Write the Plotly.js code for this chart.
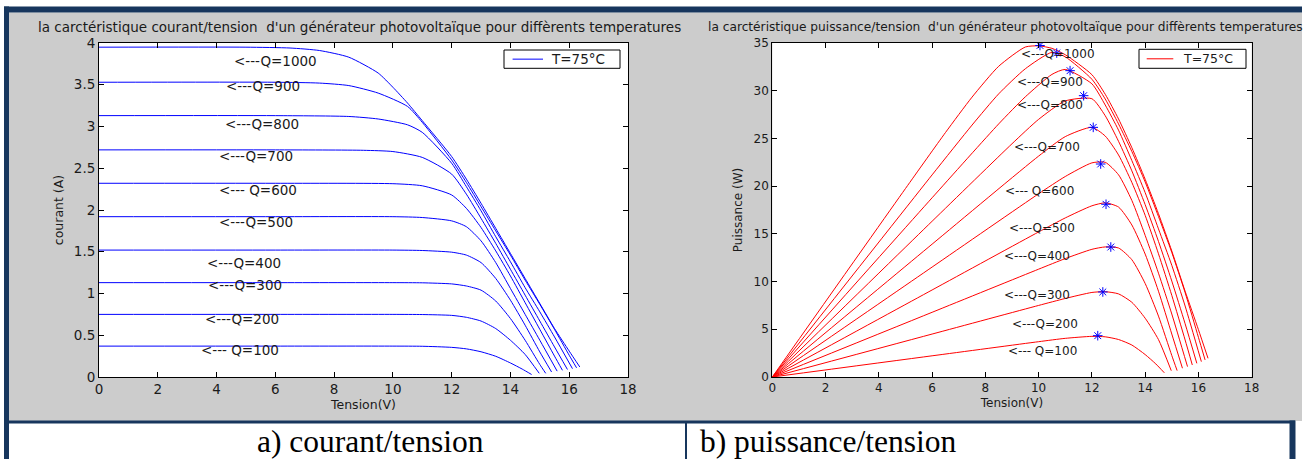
<!DOCTYPE html>
<html>
<head>
<meta charset="utf-8">
<script src="https://cdn.plot.ly/plotly-3.0.1.min.js"></script>
<style>
html,body{margin:0;padding:0;background:#fff;}
#chart{width:1309px;height:459px;}
</style>
</head>
<body>
<div id="chart"></div>
<script>
// ---------- DATA ----------
const IRRADIANCE = [100, 200, 300, 400, 500, 600, 700, 800, 900, 1000];
const Q_LABELS = ['<--- Q=100', '<---Q=200', '<---Q=300', '<---Q=400', '<---Q=500',
                  '<--- Q=600', '<---Q=700', '<---Q=800', '<---Q=900', '<---Q=1000'];
const LEGEND_LABEL = 'T=75°C';

// Tension (V) sample points, courant (A) and puissance (W) for each irradiance Q
const V_Q100 = [0, 6, 10, 11, 12, 12.5, 13, 13.5, 14, 14.4, 14.72];
const I_Q100 = [0.37, 0.37, 0.37, 0.368, 0.355, 0.337, 0.302, 0.248, 0.168, 0.095, 0.03];
const P_Q100 = [0, 2.22, 3.70, 4.05, 4.26, 4.21, 3.93, 3.35, 2.35, 1.37, 0.44];

const V_Q200 = [0, 6, 10, 11, 12, 12.5, 13, 13.5, 14, 14.5, 14.98];
const I_Q200 = [0.75, 0.75, 0.75, 0.748, 0.738, 0.715, 0.67, 0.58, 0.44, 0.27, 0.044];
const P_Q200 = [0, 4.5, 7.5, 8.23, 8.86, 8.94, 8.71, 7.83, 6.16, 3.92, 0.66];

const V_Q300 = [0, 6, 10, 11, 12, 12.5, 13, 13.5, 14, 14.5, 15, 15.2];
const I_Q300 = [1.13, 1.13, 1.13, 1.128, 1.115, 1.09, 1.04, 0.91, 0.70, 0.44, 0.15, 0.044];
const P_Q300 = [0, 6.78, 11.3, 12.41, 13.38, 13.63, 13.52, 12.29, 9.8, 6.38, 2.25, 0.67];

const V_Q400 = [0, 6, 10, 11, 12, 12.5, 13, 13.5, 14, 14.5, 15, 15.4];
const I_Q400 = [1.52, 1.52, 1.52, 1.515, 1.495, 1.46, 1.37, 1.18, 0.92, 0.62, 0.30, 0.06];
const P_Q400 = [0, 9.12, 15.2, 16.67, 17.94, 18.25, 17.81, 15.93, 12.88, 8.99, 4.5, 0.92];

const V_Q500 = [0, 6, 10, 11, 12, 12.5, 13, 13.5, 14, 14.5, 15, 15.59];
const I_Q500 = [1.92, 1.92, 1.92, 1.91, 1.87, 1.80, 1.63, 1.37, 1.06, 0.75, 0.44, 0.07];
const P_Q500 = [0, 11.52, 19.2, 21.01, 22.44, 22.5, 21.19, 18.5, 14.84, 10.88, 6.6, 1.09];

const V_Q600 = [0, 6, 10, 11, 12, 12.5, 13, 13.5, 14, 14.5, 15, 15.5, 15.77];
const I_Q600 = [2.32, 2.32, 2.315, 2.29, 2.18, 2.02, 1.79, 1.51, 1.21, 0.89, 0.57, 0.25, 0.08];
const P_Q600 = [0, 13.92, 23.15, 25.19, 26.16, 25.25, 23.27, 20.39, 16.94, 12.91, 8.55, 3.88, 1.26];

const V_Q700 = [0, 6, 9, 10, 11, 12, 12.5, 13, 13.5, 14, 14.5, 15, 15.5, 15.94];
const I_Q700 = [2.72, 2.72, 2.715, 2.70, 2.63, 2.43, 2.19, 1.90, 1.60, 1.29, 0.98, 0.67, 0.36, 0.09];
const P_Q700 = [0, 16.32, 24.44, 27.0, 28.93, 29.16, 27.38, 24.7, 21.6, 18.06, 14.21, 10.05, 5.58, 1.43];

const V_Q800 = [0, 6, 8.5, 9.5, 10.5, 11, 12, 12.5, 13, 13.5, 14, 14.5, 15, 15.5, 16.11];
const I_Q800 = [3.13, 3.13, 3.12, 3.09, 3.02, 2.93, 2.56, 2.28, 1.99, 1.68, 1.38, 1.07, 0.78, 0.48, 0.10];
const P_Q800 = [0, 18.78, 26.52, 29.36, 31.71, 32.23, 30.72, 28.5, 25.87, 22.68, 19.32, 15.52, 11.7, 7.44, 1.61];

const V_Q900 = [0, 6, 7.5, 8.5, 9.5, 10.5, 11, 12, 12.5, 13, 13.5, 14, 14.5, 15, 15.5, 16, 16.25];
const I_Q900 = [3.53, 3.53, 3.52, 3.49, 3.40, 3.24, 3.05, 2.60, 2.33, 2.04, 1.75, 1.46, 1.16, 0.87, 0.57, 0.26, 0.11];
const P_Q900 = [0, 21.18, 26.4, 29.67, 32.3, 34.02, 33.55, 31.2, 29.13, 26.52, 23.63, 20.44, 16.82, 13.05, 8.84, 4.16, 1.79];

const V_Q1000 = [0, 5, 6.5, 7.5, 8.5, 9.5, 10, 10.5, 11, 12, 12.5, 13, 13.5, 14, 14.5, 15, 15.5, 16, 16.36];
const I_Q1000 = [3.95, 3.95, 3.94, 3.91, 3.83, 3.64, 3.47, 3.28, 3.07, 2.64, 2.37, 2.08, 1.78, 1.48, 1.18, 0.88, 0.58, 0.31, 0.12];
const P_Q1000 = [0, 19.75, 25.61, 29.33, 32.56, 34.58, 34.7, 34.44, 33.77, 31.68, 29.63, 27.04, 24.03, 20.72, 17.11, 13.2, 8.99, 4.96, 1.96];

// Maximum power points (blue stars), Q = 100 ... 1000
const MPP_V = [12.22, 12.41, 12.71, 12.53, 12.33, 12.05, 11.69, 11.18, 10.68, 10.05];
const MPP_P = [4.33, 8.91, 13.62, 18.1, 22.32, 26.16, 29.48, 32.1, 33.95, 34.74];

const TITLE_IV = "la carctéristique courant/tension  d'un générateur photovoltaïque pour diffèrents temperatures";
const TITLE_PV = "la carctéristique puissance/tension  d'un générateur photovoltaïque pour diffèrents temperatures";
const CAPTION_A = 'a) courant/tension';
const CAPTION_B = 'b) puissance/tension';

// ---------- BUILD ----------
const V_ALL = [V_Q100, V_Q200, V_Q300, V_Q400, V_Q500, V_Q600, V_Q700, V_Q800, V_Q900, V_Q1000];
const I_ALL = [I_Q100, I_Q200, I_Q300, I_Q400, I_Q500, I_Q600, I_Q700, I_Q800, I_Q900, I_Q1000];
const P_ALL = [P_Q100, P_Q200, P_Q300, P_Q400, P_Q500, P_Q600, P_Q700, P_Q800, P_Q900, P_Q1000];

const W = 1309, H = 459;
const px = x => x / W;
const py = y => 1 - y / H;
const FONT = 'DejaVu Sans';
const NAVY = '#17365d';
const GRAY = '#cccccc';

const traces = [];
IRRADIANCE.forEach((q, k) => {
  traces.push({
    x: V_ALL[k], y: I_ALL[k], xaxis: 'x', yaxis: 'y', type: 'scatter', mode: 'lines',
    name: 'Q=' + q, showlegend: false,
    line: {color: '#0000ff', width: 1, shape: 'spline', smoothing: 0.6},
    hoverinfo: 'x+y'
  });
});
IRRADIANCE.forEach((q, k) => {
  traces.push({
    x: V_ALL[k], y: P_ALL[k], xaxis: 'x2', yaxis: 'y2', type: 'scatter', mode: 'lines',
    name: 'Q=' + q, showlegend: false,
    line: {color: '#ff0000', width: 1, shape: 'spline', smoothing: 0.6},
    hoverinfo: 'x+y'
  });
});
traces.push({
  x: MPP_V, y: MPP_P, xaxis: 'x2', yaxis: 'y2', type: 'scatter', mode: 'markers',
  name: 'MPP', showlegend: false,
  marker: {symbol: 'asterisk-open', size: 8, color: '#0000ff', line: {color: '#0000ff', width: 1}}
});

function axisCommon(fs) {
  return {
    showgrid: false, zeroline: false, showline: true, linecolor: '#000', linewidth: 1,
    mirror: 'ticks', ticks: 'inside', ticklen: 5, tickcolor: '#000', tickwidth: 1,
    tickfont: {family: FONT, size: fs, color: '#1a1a1a'}, fixedrange: true
  };
}

const yDom = [py(377), py(43)];
const layout = {
  width: W, height: H,
  margin: {l: 0, r: 0, t: 0, b: 0, pad: 0},
  paper_bgcolor: '#ffffff', plot_bgcolor: '#ffffff',
  showlegend: false,
  font: {family: FONT, color: '#1a1a1a'},
  xaxis: Object.assign(axisCommon(13.5), {
    domain: [px(99), px(628)], range: [0, 18], dtick: 2, tick0: 0, anchor: 'y',
    title: {text: 'Tension(V)', font: {family: FONT, size: 12.5, color: '#1a1a1a'}, standoff: 4}
  }),
  yaxis: Object.assign(axisCommon(13.5), {
    domain: yDom, range: [0, 4], dtick: 0.5, tick0: 0, anchor: 'x',
    title: {text: 'courant (A)', font: {family: FONT, size: 12.5, color: '#1a1a1a'}, standoff: 7}
  }),
  xaxis2: Object.assign(axisCommon(12), {
    domain: [px(772.3), px(1251.7)], range: [0, 18], dtick: 2, tick0: 0, anchor: 'y2',
    title: {text: 'Tension(V)', font: {family: FONT, size: 12, color: '#1a1a1a'}, standoff: 4}
  }),
  yaxis2: Object.assign(axisCommon(12), {
    domain: yDom, range: [0, 35], dtick: 5, tick0: 0, anchor: 'x2',
    title: {text: 'Puissance (W)', font: {family: FONT, size: 12, color: '#1a1a1a'}, standoff: 8}
  }),
  shapes: [],
  annotations: []
};

function rect(x0, y0, x1, y1, fill, lineColor, lw) {
  return {type: 'rect', xref: 'paper', yref: 'paper', layer: 'below',
    x0: px(x0), x1: px(x1), y0: py(y1), y1: py(y0),
    fillcolor: fill, line: {color: lineColor || fill, width: lw === undefined ? 0 : lw}};
}
// frame / background
layout.shapes.push(rect(9, 12.5, 1302, 421, GRAY));
layout.shapes.push({type: 'rect', xref: 'x domain', yref: 'y domain', layer: 'below', x0: 0, x1: 1, y0: 0, y1: 1, fillcolor: '#fff', line: {width: 0}});
layout.shapes.push({type: 'rect', xref: 'x2 domain', yref: 'y2 domain', layer: 'below', x0: 0, x1: 1, y0: 0, y1: 1, fillcolor: '#fff', line: {width: 0}});
layout.shapes.push(rect(4, 6.5, 1302, 12.5, NAVY));
layout.shapes.push(rect(4, 6.5, 9, 459, NAVY));
layout.shapes.push(rect(4, 420.5, 1295, 423.5, NAVY));
layout.shapes.push(rect(685, 423, 687, 459, NAVY));
layout.shapes.push(rect(1289.5, 420.5, 1295.5, 459, NAVY));

// legends (drawn as boxes with a line sample)
function legendBox(x0, y0, x1, y1, lx0, lx1, tx, color, fs) {
  layout.shapes.push({type: 'rect', xref: 'paper', yref: 'paper', layer: 'above',
    x0: px(x0), x1: px(x1), y0: py(y1), y1: py(y0), fillcolor: '#fff', line: {color: '#000', width: 1}});
  const ym = (y0 + y1) / 2;
  layout.shapes.push({type: 'line', xref: 'paper', yref: 'paper', layer: 'above',
    x0: px(lx0), x1: px(lx1), y0: py(ym), y1: py(ym), line: {color: color, width: 1}});
  layout.annotations.push({xref: 'paper', yref: 'paper', x: px(tx), y: py(ym), xanchor: 'left', yanchor: 'middle',
    text: LEGEND_LABEL, showarrow: false, borderpad: 0, font: {family: FONT, size: fs, color: '#1a1a1a'}});
}
legendBox(504, 50, 620, 68.3, 512.6, 543, 550, '#0000ff', 13.5);
legendBox(1139, 49.3, 1246, 68.3, 1146.7, 1173.3, 1182, '#ff0000', 12.5);

// subplot titles
layout.annotations.push({xref: 'paper', yref: 'paper', x: px(37), y: py(27.5), xanchor: 'left', yanchor: 'middle',
  text: TITLE_IV, showarrow: false, borderpad: 0, font: {family: FONT, size: 13.5, color: '#1a1a1a'}});
layout.annotations.push({xref: 'paper', yref: 'paper', x: px(707), y: py(27.5), xanchor: 'left', yanchor: 'middle',
  text: TITLE_PV, showarrow: false, borderpad: 0, font: {family: FONT, size: 12.2, color: '#1a1a1a'}});

// curve labels
const LEFT_LABEL_POS = [[200, 350], [204, 319.3], [207.3, 285], [206, 263.3], [218.3, 222.3],
                        [218.3, 190], [218.3, 156], [224, 124.3], [225, 86], [232.7, 61]];
const RIGHT_LABEL_POS = [[1006.7, 351], [1011, 324.3], [1003.3, 295], [1003.3, 256], [1007.7, 227.7],
                         [1004.3, 191], [1013.3, 147.3], [1016, 105], [1016, 81.7], [1020, 54]];
Q_LABELS.forEach((t, k) => {
  layout.annotations.push({xref: 'paper', yref: 'paper', x: px(LEFT_LABEL_POS[k][0]), y: py(LEFT_LABEL_POS[k][1]),
    xanchor: 'left', yanchor: 'middle', text: t, showarrow: false, borderpad: 0,
    font: {family: FONT, size: 13.5, color: '#1a1a1a'}});
  layout.annotations.push({xref: 'paper', yref: 'paper', x: px(RIGHT_LABEL_POS[k][0]), y: py(RIGHT_LABEL_POS[k][1]),
    xanchor: 'left', yanchor: 'middle', text: t, showarrow: false, borderpad: 0,
    font: {family: FONT, size: 12, color: '#1a1a1a'}});
});

// captions
layout.annotations.push({xref: 'paper', yref: 'paper', x: px(370), y: py(441), xanchor: 'center', yanchor: 'middle',
  text: CAPTION_A, showarrow: false, borderpad: 0, font: {family: 'Liberation Serif', size: 31.5, color: '#000'}});
layout.annotations.push({xref: 'paper', yref: 'paper', x: px(699), y: py(441), xanchor: 'left', yanchor: 'middle',
  text: CAPTION_B, showarrow: false, borderpad: 0, font: {family: 'Liberation Serif', size: 31.5, color: '#000'}});

Plotly.newPlot('chart', traces, layout, {displayModeBar: false, responsive: false, staticPlot: true});
</script>
</body>
</html>
